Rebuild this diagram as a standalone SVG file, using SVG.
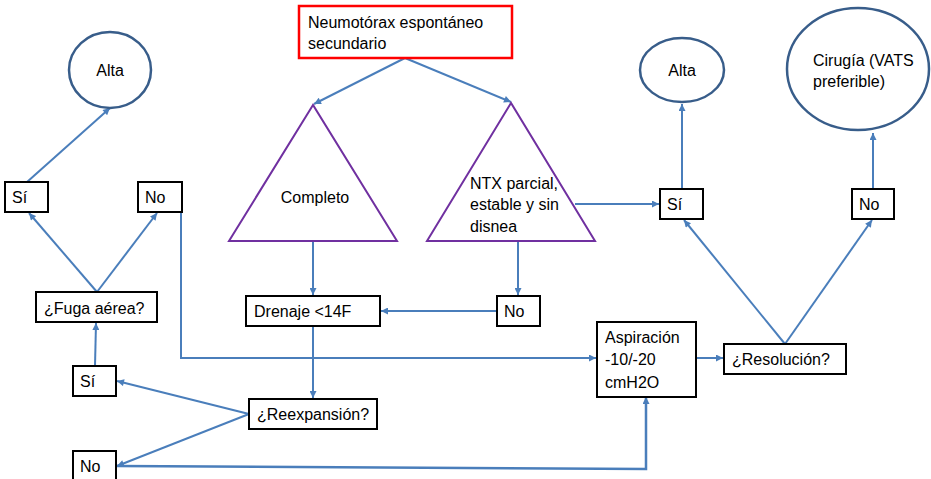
<svg xmlns="http://www.w3.org/2000/svg" width="931" height="479" viewBox="0 0 931 479">
  <style>
    text { font-family: "Liberation Sans", Arial, sans-serif; font-size: 16px; fill: #000; }
    .box { fill: #fff; stroke: #000; stroke-width: 2; }
    .start { fill: #fff; stroke: #ff0000; stroke-width: 2.5; }
    .end { fill: #fff; stroke: #385d8a; stroke-width: 2.5; }
    .tri { fill: #fff; stroke: #7030a0; stroke-width: 2; }
    .link { fill: none; stroke: #4a7ebb; stroke-width: 2; }
    .arrow { marker-end: url(#head); }
    .mid { text-anchor: middle; }
  </style>
  <defs>
    <marker id="head" viewBox="0 0 10 10" refX="10" refY="5" markerWidth="8" markerHeight="7" markerUnits="userSpaceOnUse" orient="auto">
      <path d="M0,0 L10,5 L0,10 z" fill="#4a7ebb"/>
    </marker>
  </defs>

  <rect width="931" height="479" fill="#fff"/>

  <!-- connectors -->
  <g id="connectors">
    <line class="link arrow" x1="405" y1="58" x2="314" y2="104"/>
    <line class="link arrow" x1="405" y1="58" x2="511" y2="102"/>
    <line class="link arrow" x1="575" y1="204" x2="659" y2="204"/>
    <line class="link arrow" x1="682" y1="189" x2="682" y2="104"/>
    <line class="link arrow" x1="873" y1="189" x2="873" y2="133"/>
    <line class="link arrow" x1="313" y1="241" x2="313" y2="295"/>
    <line class="link arrow" x1="518" y1="241" x2="518" y2="295"/>
    <line class="link arrow" x1="497" y1="311" x2="381" y2="311"/>
    <line class="link arrow" x1="313" y1="326" x2="313" y2="398"/>
    <polyline class="link arrow" points="181,212 181,358 596,358"/>
    <line class="link arrow" x1="696" y1="358" x2="723" y2="358"/>
    <line class="link arrow" x1="785" y1="344" x2="684" y2="220"/>
    <line class="link arrow" x1="785" y1="344" x2="872" y2="220"/>
    <line class="link arrow" x1="249" y1="414" x2="117" y2="381"/>
    <line class="link arrow" x1="249" y1="414" x2="117" y2="466"/>
    <polyline class="link arrow" style="stroke-width:2.5" points="117,466 646,469 646,397"/>
    <line class="link arrow" x1="95" y1="366" x2="96" y2="323"/>
    <line class="link arrow" x1="97" y1="292" x2="29" y2="213"/>
    <line class="link arrow" x1="97" y1="292" x2="157" y2="213"/>
    <line class="link arrow" x1="27" y1="182" x2="110" y2="108"/>
  </g>

  <g id="n-start">
    <rect class="start" x="299" y="6" width="213" height="52"/>
    <text x="308" y="28">Neumotórax espontáneo</text>
    <text x="308" y="49">secundario</text>
  </g>

  <g id="n-completo">
    <polygon class="tri" points="313,105 229,241 397,241"/>
    <text class="mid" x="315" y="203">Completo</text>
  </g>

  <g id="n-parcial">
    <polygon class="tri" points="511,103 427,241 595,241"/>
    <text x="470" y="189">NTX parcial,</text>
    <text x="470" y="210">estable y sin</text>
    <text x="470" y="232">disnea</text>
  </g>

  <g id="n-alta-left">
    <ellipse class="end" cx="110" cy="70" rx="41" ry="38"/>
    <text class="mid" x="110" y="76">Alta</text>
  </g>

  <g id="n-alta-right">
    <ellipse class="end" cx="682" cy="70" rx="42" ry="32"/>
    <text class="mid" x="682" y="76">Alta</text>
  </g>

  <g id="n-cirugia">
    <ellipse class="end" cx="858" cy="69" rx="71" ry="61"/>
    <text x="813" y="66">Cirugía (VATS</text>
    <text x="813" y="87">preferible)</text>
  </g>

  <g id="n-si-fuga">
    <rect class="box" x="5" y="182" width="43" height="30"/>
    <text x="12" y="203">Sí</text>
  </g>

  <g id="n-no-fuga">
    <rect class="box" x="138" y="182" width="44" height="30"/>
    <text x="145" y="203">No</text>
  </g>

  <g id="n-fuga">
    <rect class="box" x="36" y="292" width="121" height="30"/>
    <text x="44" y="314">¿Fuga aérea?</text>
  </g>

  <g id="n-si-reexp">
    <rect class="box" x="73" y="366" width="43" height="30"/>
    <text x="80" y="387">Sí</text>
  </g>

  <g id="n-no-reexp">
    <rect class="box" x="73" y="451" width="43" height="30"/>
    <text x="80" y="472">No</text>
  </g>

  <g id="n-drenaje">
    <rect class="box" x="246" y="296" width="134" height="30"/>
    <text x="254" y="317">Drenaje &lt;14F</text>
  </g>

  <g id="n-no-parcial">
    <rect class="box" x="497" y="296" width="43" height="30"/>
    <text x="504" y="317">No</text>
  </g>

  <g id="n-reexpansion">
    <rect class="box" x="249" y="399" width="128" height="30"/>
    <text x="257" y="420">¿Reexpansión?</text>
  </g>

  <g id="n-aspiracion">
    <rect class="box" x="597" y="322" width="99" height="75"/>
    <text x="605" y="343">Aspiración</text>
    <text x="605" y="365">-10/-20</text>
    <text x="605" y="388">cmH2O</text>
  </g>

  <g id="n-resolucion">
    <rect class="box" x="724" y="344" width="122" height="30"/>
    <text x="732" y="365">¿Resolución?</text>
  </g>

  <g id="n-si-resol">
    <rect class="box" x="660" y="189" width="43" height="30"/>
    <text x="667" y="210">Sí</text>
  </g>

  <g id="n-no-resol">
    <rect class="box" x="852" y="189" width="42" height="30"/>
    <text x="859" y="210">No</text>
  </g>
</svg>
